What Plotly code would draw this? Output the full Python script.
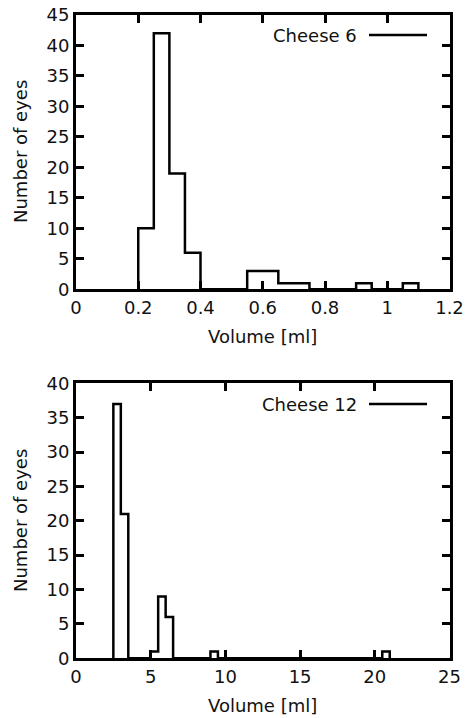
import plotly.graph_objects as go

# ---- data ----
c6_bin_start = [0.20, 0.25, 0.30, 0.35, 0.55, 0.60, 0.65, 0.70, 0.90, 1.05]
c6_counts = [10, 42, 19, 6, 3, 3, 1, 1, 1, 1]
c6_width = 0.05

c12_bin_start = [2.5, 3.0, 5.0, 5.5, 6.0, 9.0, 20.5]
c12_counts = [37, 21, 1, 9, 6, 1, 1]
c12_width = 0.5

x6_ticks = [0, 0.2, 0.4, 0.6, 0.8, 1, 1.2]
x6_ticktext = ["0", "0.2", "0.4", "0.6", "0.8", "1", "1.2"]
y6_ticks = [0, 5, 10, 15, 20, 25, 30, 35, 40, 45]
x12_ticks = [0, 5, 10, 15, 20, 25]
y12_ticks = [0, 5, 10, 15, 20, 25, 30, 35, 40]

labels = ["Cheese 6", "Cheese 12"]


def outline(starts, counts, w):
    xs, ys = [], []
    n = len(starts)
    for i in range(n):
        s, c = starts[i], counts[i]
        e = s + w
        if i == 0 or abs(starts[i - 1] + w - s) > 1e-9:
            xs.append(s); ys.append(0)
        xs += [s, e]; ys += [c, c]
        if i == n - 1 or abs(starts[i + 1] - e) > 1e-9:
            xs.append(e); ys.append(0)
    return xs, ys


FONT = "DejaVu Sans"
W, H = 468, 718
xl, xr = 76 / W, 449.5 / W
top_dom = [1 - 289.3 / H, 1 - 15 / H]
bot_dom = [1 - 658.3 / H, 1 - 383.3 / H]

fig = go.Figure()
x6, y6 = outline(c6_bin_start, c6_counts, c6_width)
x12, y12 = outline(c12_bin_start, c12_counts, c12_width)
fig.add_trace(go.Scatter(x=x6, y=y6, mode="lines", line=dict(color="black", width=2.5),
                         xaxis="x", yaxis="y", showlegend=False, cliponaxis=True))
fig.add_trace(go.Scatter(x=x12, y=y12, mode="lines", line=dict(color="black", width=2.5),
                         xaxis="x2", yaxis="y2", showlegend=False, cliponaxis=True))

axcommon = dict(showline=True, linecolor="black", linewidth=3, mirror="ticks",
                ticks="inside", ticklen=8, tickwidth=2.5, tickcolor="black",
                showgrid=False, zeroline=False, automargin=False,
                tickfont=dict(family=FONT, size=18, color="#111111"))

fig.update_layout(
    width=W, height=H,
    margin=dict(l=0, r=0, t=0, b=0),
    paper_bgcolor="white", plot_bgcolor="white",
    showlegend=False,
    xaxis=dict(domain=[xl, xr], anchor="y", range=[0, 1.2], tickvals=x6_ticks,
               ticktext=x6_ticktext, **axcommon),
    yaxis=dict(domain=top_dom, anchor="x", range=[0, 45], tickvals=y6_ticks, **axcommon),
    xaxis2=dict(domain=[xl, xr], anchor="y2", range=[0, 25], tickvals=x12_ticks, **axcommon),
    yaxis2=dict(domain=bot_dom, anchor="x2", range=[0, 40], tickvals=y12_ticks, **axcommon),
)

tfont = dict(family=FONT, size=18, color="#111111")
xc = (xl + xr) / 2
annos = [
    dict(text="Number of eyes", x=20 / W, y=1 - 152 / H, textangle=-90),
    dict(text="Number of eyes", x=20 / W, y=1 - 521 / H, textangle=-90),
    dict(text="Volume [ml]", x=xc, y=1 - 336 / H),
    dict(text="Volume [ml]", x=xc, y=1 - 705 / H),
]
for a in annos:
    fig.add_annotation(xref="paper", yref="paper", showarrow=False, font=tfont,
                       xanchor="center", yanchor="middle", **a)

# legend entries (text then line sample)
for lab, ypx in zip(labels, [35, 404]):
    fig.add_annotation(xref="paper", yref="paper", showarrow=False, font=tfont,
                       text=lab, x=359 / W, y=1 - ypx / H, xanchor="right", yanchor="middle")
    fig.add_shape(type="line", xref="paper", yref="paper", x0=369 / W, x1=427 / W,
                  y0=1 - ypx / H, y1=1 - ypx / H, line=dict(color="black", width=2.5))

fig.write_html("out.html")
